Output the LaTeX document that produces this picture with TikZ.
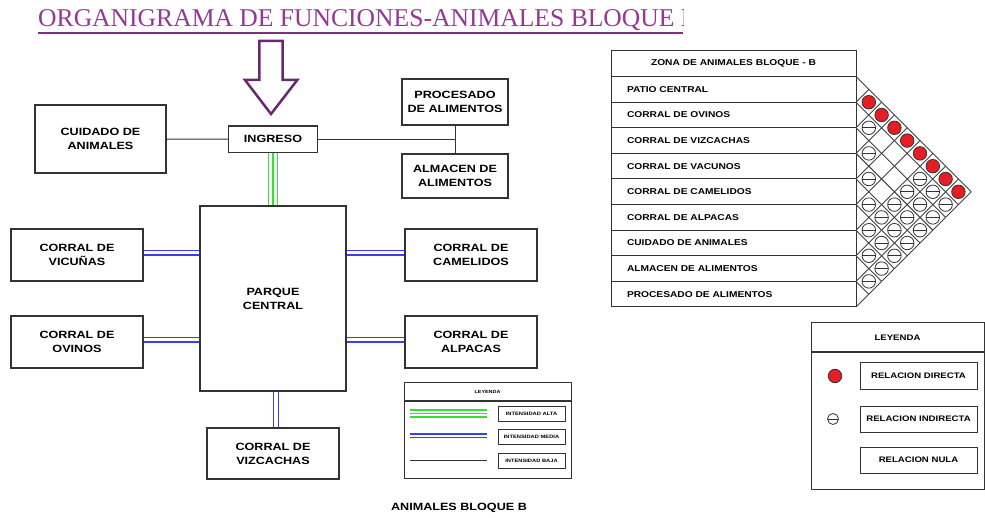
\documentclass[tikz,border=0pt]{standalone}
\usepackage{fontspec}
\usepackage{tikz}
\usetikzlibrary{positioning,calc}
\setmainfont{Liberation Sans}
\newfontfamily\widesans[FakeStretch=1.2]{Liberation Sans}
\newfontfamily\titleserif{Liberation Serif}
\definecolor{TitlePurple}{RGB}{150,55,150}
\definecolor{ArrowPurple}{RGB}{105,40,110}
\definecolor{AltaGreen}{RGB}{50,225,50}
\definecolor{MediaBlue}{RGB}{60,60,240}
\definecolor{DirectaRed}{RGB}{228,30,36}

\begin{document}
\begin{tikzpicture}[
  x=1pt, y=-1pt,
  every node/.style={font=\widesans\bfseries},
  unitbox/.style={draw=black!80, line width=1.1pt, fill=white, align=center, inner sep=1pt, font=\widesans\bfseries\fontsize{10.5}{14}\selectfont},
  fila/.style={draw=black!80, line width=1pt, fill=white, minimum height=25.6, text width=213, inner xsep=16, align=left, font=\widesans\bfseries\fontsize{8.5}{10}\selectfont},
  cabecera/.style={fila, align=center},
  intbox/.style={draw=black!80, line width=0.9pt, minimum width=67, minimum height=15, inner sep=0, font=\widesans\bfseries\fontsize{4.8}{5}\selectfont},
  relbox/.style={draw=black!80, line width=1pt, minimum width=117, minimum height=26, inner sep=0, font=\widesans\bfseries\fontsize{8}{9}\selectfont},
  directa/.style={circle, draw=black!80, fill=DirectaRed, minimum size=13.5, inner sep=0, line width=0.8pt},
  indirecta/.style={circle, draw=black!80, fill=white, minimum size=13.5, inner sep=0, line width=0.8pt,
    path picture={\draw[black!80, line width=0.8pt] (path picture bounding box.west) -- (path picture bounding box.east);}},
  rejilla/.style={draw=black!75, line width=0.9pt},
  baja/.style={draw=black!80, line width=1pt},
  media/.style={draw=MediaBlue, line width=1.4pt},
  alta/.style={draw=AltaGreen, line width=1.3pt},
  subrayado/.style={draw=TitlePurple!85!black, line width=2pt}
]
\useasboundingbox (0,0) rectangle (985,518);

\begin{scope}
  \clip (30,0) rectangle (683,40);
  \node[anchor=base west, text=TitlePurple, font=\titleserif\fontsize{25.6}{26}\selectfont, inner sep=0] (titulo) at (38,27) {ORGANIGRAMA DE FUNCIONES-ANIMALES BLOQUE B};
\end{scope}
\draw[subrayado] ($(titulo.base west)+(0,6)$) -- ++(645,0);

\draw[ArrowPurple, line width=2.5pt, line join=miter] (259.3,41) -- (282.7,41) -- (282.7,80) -- (297.3,80) -- (271,114) -- (245,80) -- (259.3,80) -- cycle;

\node[unitbox, minimum width=131, minimum height=68] (cuidado) at (100.5,139) {CUIDADO DE\\ANIMALES};
\node[unitbox, minimum width=89, minimum height=26.5] (ingreso) at (273,139.3) {INGRESO};
\node[unitbox, minimum width=106, minimum height=46] (procesado) at (455,102) {PROCESADO\\DE ALIMENTOS};
\node[unitbox, minimum width=106, minimum height=44] (almacen) at (455,176) {ALMACEN DE\\ALIMENTOS};
\node[unitbox, minimum width=146, minimum height=185] (parque) at (273,298.5) {PARQUE\\CENTRAL};
\node[unitbox, minimum width=132, minimum height=52] (vicunas) at (77,255) {CORRAL DE\\VICUÑAS};
\node[unitbox, minimum width=132, minimum height=52] (ovinos) at (77,342) {CORRAL DE\\OVINOS};
\node[unitbox, minimum width=132, minimum height=52] (camelidos) at (471,255) {CORRAL DE\\CAMELIDOS};
\node[unitbox, minimum width=132, minimum height=52] (alpacas) at (471,342) {CORRAL DE\\ALPACAS};
\node[unitbox, minimum width=132, minimum height=51] (vizcachas) at (273,453.5) {CORRAL DE\\VIZCACHAS};

\coordinate (junta) at (procesado |- ingreso);
\draw[baja] (cuidado) -- (ingreso);
\draw[baja] (ingreso) -- (junta);
\draw[baja] (procesado) -- (almacen);
\foreach \dx in {-4.6,0,4.6}
  \draw[alta] ($(ingreso.south)+(\dx,0)$) -- ($(parque.north)+(\dx,0)$);
\foreach \dy in {-4.5,0}{
  \draw[media] ($(vicunas.east)+(0,\dy)$) -- ($(vicunas.east -| parque.west)+(0,\dy)$);
  \draw[media] ($(ovinos.east)+(0,\dy)$) -- ($(ovinos.east -| parque.west)+(0,\dy)$);
  \draw[media] ($(camelidos.west)+(0,\dy)$) -- ($(camelidos.west -| parque.east)+(0,\dy)$);
  \draw[media] ($(alpacas.west)+(0,\dy)$) -- ($(alpacas.west -| parque.east)+(0,\dy)$);
}
\foreach \dx in {0.5,5.5}
  \draw[media] ($(parque.south)+(\dx,0)$) -- ($(vizcachas.north)+(\dx,0)$);

\node[draw=black!80, line width=1pt, minimum width=167, minimum height=17, inner sep=0, font=\widesans\bfseries\fontsize{4.5}{5}\selectfont] (legint) at (487.5,391.5) {LEYENDA};
\node[draw=black!80, line width=1pt, minimum width=167, minimum height=77, inner sep=0, below=0pt of legint] (legintbody) {};
\node[intbox] (ialta) at (531.5,413.5) {INTENSIDAD ALTA};
\node[intbox] (imedia) at (531.5,437) {INTENSIDAD MEDIA};
\node[intbox] (ibaja) at (531.5,461) {INTENSIDAD BAJA};
\foreach \dy in {-3.4,0,3.4}
  \draw[alta] ($(ialta.west)+(-88,\dy)$) -- ++(77,0);
\foreach \dy in {-3,0.6}
  \draw[media] ($(imedia.west)+(-88,\dy)$) -- ++(77,0);
\draw[baja] ($(ibaja.west)+(-88,-1)$) -- ++(77,0);

\node[font=\widesans\bfseries\fontsize{10.5}{12}\selectfont] (pie) at (459,508) {ANIMALES BLOQUE B};

\node[cabecera] (zona) at (733.5,63.8) {ZONA DE ANIMALES BLOQUE - B};
\foreach \nombre [count=\i from 0] in {PATIO CENTRAL,CORRAL DE OVINOS,CORRAL DE VIZCACHAS,CORRAL DE VACUNOS,CORRAL DE CAMELIDOS,CORRAL DE ALPACAS,CUIDADO DE ANIMALES,ALMACEN DE ALIMENTOS,PROCESADO DE ALIMENTOS}
  \node[fila] (r\i) at (733.5,{89.4+25.6*\i}) {\nombre};

\foreach \k in {0,...,9}{
  \pgfmathsetmacro\yk{76.6+25.6*\k}
  \draw[rejilla] (856,\yk) -- ({856+(307-\yk)/2},{(307+\yk)/2});
  \draw[rejilla] (856,\yk) -- ({856+(\yk-76.6)/2},{(\yk+76.6)/2});
}
\foreach \j in {1,...,8}
  \node[directa] (c0\j) at ({856+12.8*\j},{89.4+12.8*\j}) {};
\foreach \i/\j in {1/2,1/6,1/7,1/8,2/3,2/6,2/7,2/8,3/4,3/6,3/7,3/8,4/5,4/6,4/7,4/8,5/6,5/7,5/8,6/7,6/8,7/8}
  \node[indirecta] (c\i\j) at ({856+12.8*(\j-\i)},{89.4+12.8*(\i+\j)}) {};

\node[draw=black!80, line width=1pt, minimum width=173, minimum height=29, inner sep=0, font=\widesans\bfseries\fontsize{8}{9}\selectfont] (rcab) at (897.5,337.5) {LEYENDA};
\node[draw=black!80, line width=1pt, minimum width=173, minimum height=136, inner sep=0, below=0pt of rcab] (rcuerpo) {};
\node[directa] (rdir) at (835,376) {};
\node[indirecta, minimum size=11] (rind) at (833,419) {};
\node[relbox] (rdirecta) at (918.5,376) {RELACION DIRECTA};
\node[relbox] (rindirecta) at (918.5,419) {RELACION INDIRECTA};
\node[relbox] (rnula) at (918.5,460) {RELACION NULA};
\end{tikzpicture}
\end{document}
